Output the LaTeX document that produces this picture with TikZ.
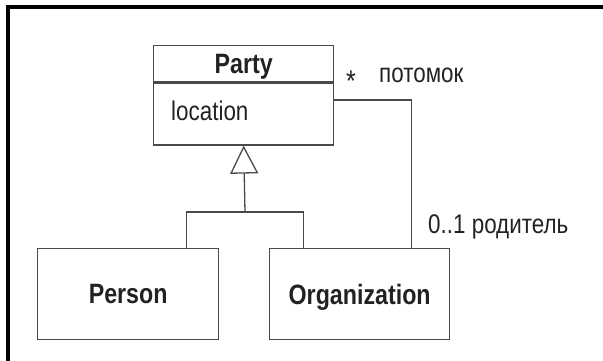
\documentclass[tikz,border=0pt]{standalone}
\usepackage{fontspec}
\setmainfont{Liberation Sans}[FakeStretch=0.83]
\usetikzlibrary{arrows.meta}
\definecolor{umlline}{HTML}{4A4A4A}
\definecolor{umltext}{HTML}{222222}
\tikzset{
  cls/.style={draw=umlline, line width=1.3pt, rectangle, inner sep=0pt,
    minimum width=180pt, text depth=0pt, text=umltext,
    font=\bfseries\fontsize{28}{32}\selectfont},
  lbl/.style={inner sep=0pt, text=umltext, font=\fontsize{27}{30}\selectfont}
}
\begin{document}
\begin{tikzpicture}[x=1pt,y=-1pt]
      \useasboundingbox (0,0) rectangle (603,361);
      \draw[line width=4pt] (8,361) -- (8,7) -- (603,7);
      \node[cls, minimum height=36pt, anchor=north west] (party) at (153,45) {Party};
      \node[cls, minimum height=62pt, anchor=north] (partyattr) at (party.south) {};
      \node[lbl, anchor=base west] (location) at (171,121) {location};
      \node[cls, minimum width=181pt, minimum height=91pt, anchor=north west] (person) at (37,248) {Person};
      \node[cls, minimum height=91pt, anchor=north west] (org) at (269,248) {Organization};
      \coordinate (fork) at (245,212);
      \node[lbl, anchor=north, font=\fontsize{30}{30}\selectfont] (star) at (351,71) {*};
      \node[lbl, anchor=base west] (child) at (379,83) {потомок};
      \node[lbl, anchor=base west] (parent) at (428,233) {0..1 родитель};
      \begin{scope}[draw=umlline, line width=1.3pt]
        \draw[-{Triangle[open, length=28pt, width=28pt]}] (fork) to (partyattr.south);
        \draw ([xshift=58pt]person.north) |- (fork);
        \draw ([xshift=-56pt]org.north) |- (fork);
        \draw ([yshift=14pt]partyattr.east) -| ([xshift=52pt]org.north);
      \end{scope}
    \end{tikzpicture}
\end{document}
